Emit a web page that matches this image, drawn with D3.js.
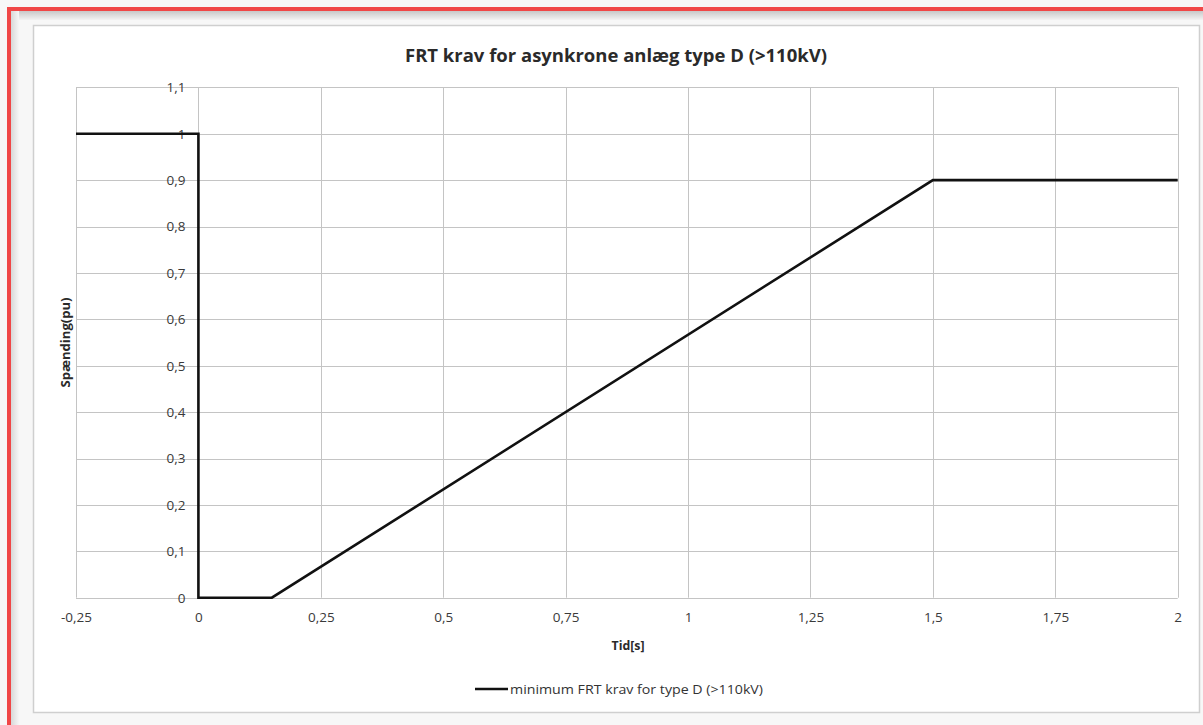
<!DOCTYPE html>
<html>
<head>
<meta charset="utf-8">
<script src="https://cdn.jsdelivr.net/npm/d3@7"></script>
<style>
html,body{margin:0;padding:0;background:#fff;}
svg{display:block;}
</style>
</head>
<body>
<svg id="chart" width="1203" height="725"></svg>
<script>
// ---- data ----
const title = "FRT krav for asynkrone anlæg type D (>110kV)";
const xLabel = "Tid[s]";
const yLabel = "Spænding(pu)";
const seriesName = "minimum FRT krav for type D (>110kV)";
const timeValues = [-0.25, 0, 0, 0.15, 1.5, 2];
const voltageValues = [1, 1, 0, 0, 0.9, 0.9];
const xTicks = [-0.25, 0, 0.25, 0.5, 0.75, 1, 1.25, 1.5, 1.75, 2];
const yTicks = [0, 0.1, 0.2, 0.3, 0.4, 0.5, 0.6, 0.7, 0.8, 0.9, 1, 1.1];

const svg = d3.select("#chart");
const W = 1203, H = 725;
const FONT = "'Open Sans', sans-serif";

// screenshot frame
const defs = svg.append("defs");
const g1 = defs.append("linearGradient").attr("id","shTop").attr("x1",0).attr("y1",0).attr("x2",0).attr("y2",1);
g1.append("stop").attr("offset","0%").attr("stop-color","#c4c4c4");
g1.append("stop").attr("offset","100%").attr("stop-color","#f3f3f3");
const g2 = defs.append("linearGradient").attr("id","shLeft").attr("x1",0).attr("y1",0).attr("x2",1).attr("y2",0);
g2.append("stop").attr("offset","0%").attr("stop-color","#d8d8d8");
g2.append("stop").attr("offset","100%").attr("stop-color","#f6f6f6");

svg.append("rect").attr("x",0).attr("y",0).attr("width",W).attr("height",H).attr("fill","#f7f7f7");
svg.append("rect").attr("x",11).attr("y",10).attr("width",W-11).attr("height",10).attr("fill","url(#shTop)");
svg.append("rect").attr("x",11).attr("y",10).attr("width",8).attr("height",H-10).attr("fill","url(#shLeft)");
svg.append("rect").attr("x",7).attr("y",7).attr("width",W-7).attr("height",4).attr("fill","#f04747");
svg.append("rect").attr("x",7).attr("y",7).attr("width",4).attr("height",H-7).attr("fill","#f04747");

// chart box
svg.append("rect").attr("x",33.5).attr("y",25.5).attr("width",1166).attr("height",687)
  .attr("fill","#ffffff").attr("stroke","#cfcfcf").attr("stroke-width",1.5);

// scales
const x = d3.scaleLinear().domain([-0.25, 2]).range([76, 1177.7]);
const y = d3.scaleLinear().domain([0, 1.1]).range([597.7, 87.3]);

const fmt = d => String(+d.toFixed(2)).replace(".", ",");

// gridlines
const grid = svg.append("g");
grid.selectAll("line.v").data(xTicks).join("line")
  .attr("x1", d => Math.round(x(d)) + 0.5).attr("x2", d => Math.round(x(d)) + 0.5)
  .attr("y1", y(1.1)).attr("y2", y(0))
  .attr("stroke", "#c4c4c4").attr("stroke-width", 1);
grid.selectAll("line.h").data(yTicks).join("line")
  .attr("y1", d => Math.round(y(d)) + 0.5).attr("y2", d => Math.round(y(d)) + 0.5)
  .attr("x1", x(-0.25)).attr("x2", x(2))
  .attr("stroke", "#c4c4c4").attr("stroke-width", 1);

// y tick labels (axis crosses at x=0)
const yAxis = d3.axisLeft(y).tickValues(yTicks).tickFormat(fmt).tickSize(0).tickPadding(13);
const ya = svg.append("g").attr("transform", `translate(${x(0)},0)`).call(yAxis);
ya.select(".domain").remove();
ya.selectAll("text").attr("font-family",FONT).attr("font-size",13.5).attr("fill","#3a3a3a");

// x tick labels
const xAxis = d3.axisBottom(x).tickValues(xTicks).tickFormat(fmt).tickSize(0).tickPadding(15);
const xa = svg.append("g").attr("transform", `translate(0,${y(0)})`).call(xAxis);
xa.select(".domain").remove();
xa.selectAll("text").attr("font-family",FONT).attr("font-size",13.5).attr("fill","#3a3a3a");

// series line
const pts = timeValues.map((t, i) => [t, voltageValues[i]]);
svg.append("path").datum(pts)
  .attr("d", d3.line().x(d => x(d[0])).y(d => y(d[1])))
  .attr("fill","none").attr("stroke","#111").attr("stroke-width",2.6).attr("stroke-linejoin","miter");

// title
svg.append("text").attr("x", 616).attr("y", 62).attr("text-anchor","middle")
  .attr("font-family",FONT).attr("font-weight","bold").attr("font-size",18.5)
  .attr("textLength",422).attr("lengthAdjust","spacingAndGlyphs")
  .attr("fill","#2a2a2a").text(title);

// axis titles
svg.append("text").attr("x", 628).attr("y", 650).attr("text-anchor","middle")
  .attr("font-family",FONT).attr("font-weight","bold").attr("font-size",12.5)
  .attr("textLength",33).attr("lengthAdjust","spacingAndGlyphs")
  .attr("fill","#2a2a2a").text(xLabel);
svg.append("text").attr("transform", `translate(70,${(y(0)+y(1.1))/2}) rotate(-90)`).attr("text-anchor","middle")
  .attr("font-family",FONT).attr("font-weight","bold").attr("font-size",12.5)
  .attr("textLength",90).attr("lengthAdjust","spacingAndGlyphs")
  .attr("fill","#2a2a2a").text(yLabel);

// legend
svg.append("line").attr("x1",475).attr("x2",508).attr("y1",689).attr("y2",689)
  .attr("stroke","#111").attr("stroke-width",2.6);
svg.append("text").attr("x",510).attr("y",694)
  .attr("font-family",FONT).attr("font-size",13.5)
  .attr("textLength",253).attr("lengthAdjust","spacingAndGlyphs")
  .attr("fill","#333").text(seriesName);
</script>
</body>
</html>
